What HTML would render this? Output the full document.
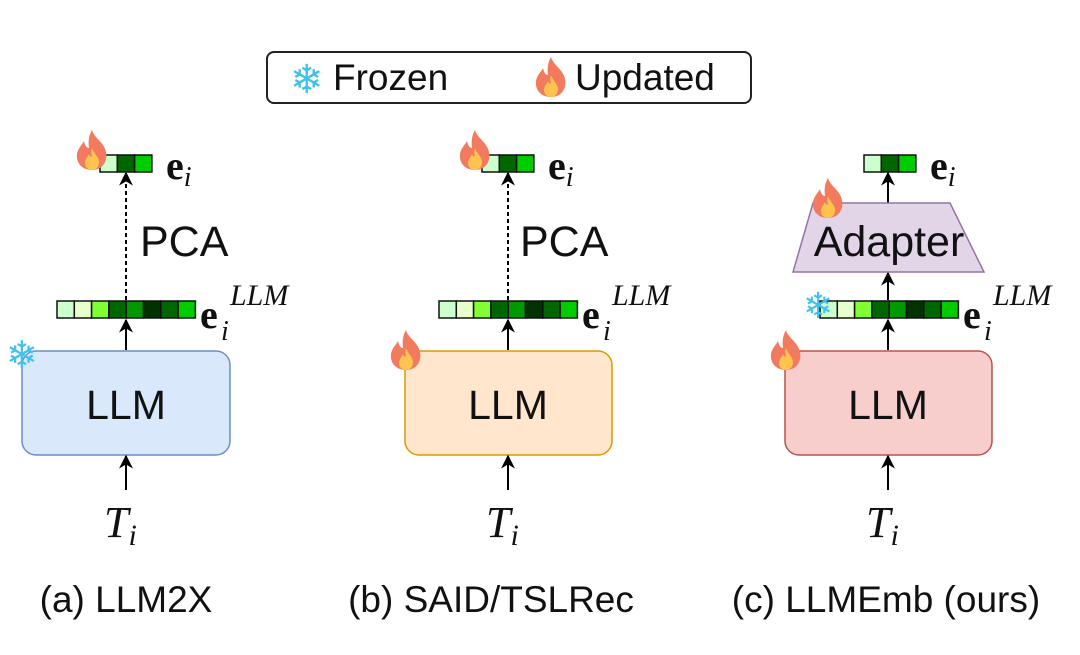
<!DOCTYPE html>
<html><head><meta charset="utf-8"><style>
html,body{margin:0;padding:0;background:#fff;}
svg{display:block;}
.t{font-family:"Liberation Sans",sans-serif;fill:#111;}
.m{font-family:"Liberation Serif","DejaVu Serif",serif;fill:#111;}
.sf{font-family:"DejaVu Sans",sans-serif;fill:#3fc0ee;}
</style></head><body>
<svg width="1080" height="655" viewBox="0 0 1080 655" xmlns="http://www.w3.org/2000/svg">
<defs>
<g id="flame">
<path d="M16,0 C18,8 28,12 30,22 C32,32 26,40 16,40 C6,40 0,33 1,24 C2,18 6,15 8,11 C9,16 11,18 13,18 C12,11 13,5 16,0 Z" fill="#f27a5e"/>
<path d="M16,18 C18,24 23,27 23,32 C23,37 20,40 16,40 C12,40 9,37 9,33 C9,29 12,27 13,24 C14,27 15,27 16,26 C15,23 15,21 16,18 Z" fill="#fec44f"/>
</g>
<marker id="ah" viewBox="0 0 10 10" refX="9" refY="5" markerWidth="14" markerHeight="14" orient="auto" markerUnits="userSpaceOnUse">
<path d="M0,0 L10,5 L0,10 L3,5 Z" fill="#000"/>
</marker>
</defs>

<rect x="267" y="52" width="484" height="51" rx="7" fill="#fff" stroke="#222" stroke-width="2"/>
<text class="sf" x="290" y="93" font-size="40">❄</text>
<text class="t" x="333" y="90" font-size="37">Frozen</text>
<use href="#flame" x="535" y="57"/>
<text class="t" x="575" y="90" font-size="37">Updated</text>

<g>
<rect x="22" y="351" width="208" height="104" rx="14" fill="#dae8fc" stroke="#6c8ebf" stroke-width="1.5"/>
<text class="t" x="126" y="419" font-size="41" text-anchor="middle">LLM</text>
<line x1="126" y1="490" x2="126" y2="456" stroke="#000" stroke-width="2" marker-end="url(#ah)"/>
<line x1="126" y1="350" x2="126" y2="320" stroke="#000" stroke-width="2" marker-end="url(#ah)"/>
<line x1="126" y1="300" x2="126" y2="173" stroke="#000" stroke-width="2" stroke-dasharray="4,3" marker-end="url(#ah)"/>
<text class="sf" x="6" y="368" font-size="38">❄</text>
</g>
<g>
<rect x="405" y="351" width="207" height="104" rx="14" fill="#ffe6cc" stroke="#d79b00" stroke-width="1.5"/>
<text class="t" x="508" y="419" font-size="41" text-anchor="middle">LLM</text>
<line x1="508" y1="490" x2="508" y2="456" stroke="#000" stroke-width="2" marker-end="url(#ah)"/>
<line x1="508" y1="350" x2="508" y2="320" stroke="#000" stroke-width="2" marker-end="url(#ah)"/>
<line x1="508" y1="300" x2="508" y2="173" stroke="#000" stroke-width="2" stroke-dasharray="4,3" marker-end="url(#ah)"/>
<use href="#flame" x="390" y="330"/>
</g>
<g>
<rect x="785" y="351" width="207" height="104" rx="14" fill="#f8cecc" stroke="#b85450" stroke-width="1.5"/>
<text class="t" x="888" y="419" font-size="41" text-anchor="middle">LLM</text>
<line x1="888" y1="490" x2="888" y2="456" stroke="#000" stroke-width="2" marker-end="url(#ah)"/>
<line x1="888" y1="350" x2="888" y2="320" stroke="#000" stroke-width="2" marker-end="url(#ah)"/>
<line x1="888" y1="300" x2="888" y2="273" stroke="#000" stroke-width="2" marker-end="url(#ah)"/>
<line x1="888" y1="203" x2="888" y2="173" stroke="#000" stroke-width="2" marker-end="url(#ah)"/>
<polygon points="813,203 950,203 984,272 793,272" fill="#e1d5e7" stroke="#9673a6" stroke-width="1.5"/>
<text class="t" x="889" y="256" font-size="43" text-anchor="middle">Adapter</text>
<use href="#flame" x="770" y="330"/>
<use href="#flame" x="812" y="178"/>
</g>

<g stroke="#111" stroke-width="1.5">
<g id="bigv">
<rect x="57" y="301" width="17.3" height="17" fill="#ccffcc"/>
<rect x="74.3" y="301" width="17.3" height="17" fill="#e6ffcc"/>
<rect x="91.6" y="301" width="17.3" height="17" fill="#80ff33"/>
<rect x="108.9" y="301" width="17.3" height="17" fill="#006600"/>
<rect x="126.2" y="301" width="17.3" height="17" fill="#009900"/>
<rect x="143.5" y="301" width="17.3" height="17" fill="#003300"/>
<rect x="160.8" y="301" width="17.3" height="17" fill="#006600"/>
<rect x="178.1" y="301" width="17.3" height="17" fill="#00cc00"/>
</g>
<use href="#bigv" x="382"/>
<use href="#bigv" x="763"/>
<g id="smv">
<rect x="100" y="155" width="17.3" height="17" fill="#ccffcc"/>
<rect x="117.3" y="155" width="17.3" height="17" fill="#006600"/>
<rect x="134.6" y="155" width="17.3" height="17" fill="#00cc00"/>
</g>
<use href="#smv" x="382"/>
<use href="#smv" x="764"/>
</g>
<text class="sf" x="803" y="318" font-size="36">❄</text>
<use href="#flame" x="76" y="130"/>
<use href="#flame" x="459" y="130"/>

<text class="t" x="140" y="256" font-size="43">PCA</text>
<text class="t" x="520" y="256" font-size="43">PCA</text>

<g class="m">
<text x="166" y="179" font-size="40" font-weight="bold">e<tspan font-size="28" font-style="italic" font-weight="normal" dy="7">i</tspan></text>
<text x="548" y="179" font-size="40" font-weight="bold">e<tspan font-size="28" font-style="italic" font-weight="normal" dy="7">i</tspan></text>
<text x="930" y="179" font-size="40" font-weight="bold">e<tspan font-size="28" font-style="italic" font-weight="normal" dy="7">i</tspan></text>

<text x="200" y="328" font-size="40" font-weight="bold">e</text>
<text x="221" y="340" font-size="28" font-style="italic">i</text>
<text x="230" y="305" font-size="30" font-style="italic">LLM</text>
<text x="582" y="328" font-size="40" font-weight="bold">e</text>
<text x="603" y="340" font-size="28" font-style="italic">i</text>
<text x="612" y="305" font-size="30" font-style="italic">LLM</text>
<text x="963" y="328" font-size="40" font-weight="bold">e</text>
<text x="984" y="340" font-size="28" font-style="italic">i</text>
<text x="993" y="305" font-size="30" font-style="italic">LLM</text>

<text x="104" y="537" font-size="44" font-style="italic">T<tspan font-size="30" dy="8">i</tspan></text>
<text x="486" y="537" font-size="44" font-style="italic">T<tspan font-size="30" dy="8">i</tspan></text>
<text x="866" y="537" font-size="44" font-style="italic">T<tspan font-size="30" dy="8">i</tspan></text>
</g>

<text class="t" x="126" y="612" font-size="37" text-anchor="middle">(a) LLM2X</text>
<text class="t" x="491" y="612" font-size="37" text-anchor="middle">(b) SAID/TSLRec</text>
<text class="t" x="886" y="612" font-size="37" text-anchor="middle">(c) LLMEmb (ours)</text>
</svg>
</body></html>
